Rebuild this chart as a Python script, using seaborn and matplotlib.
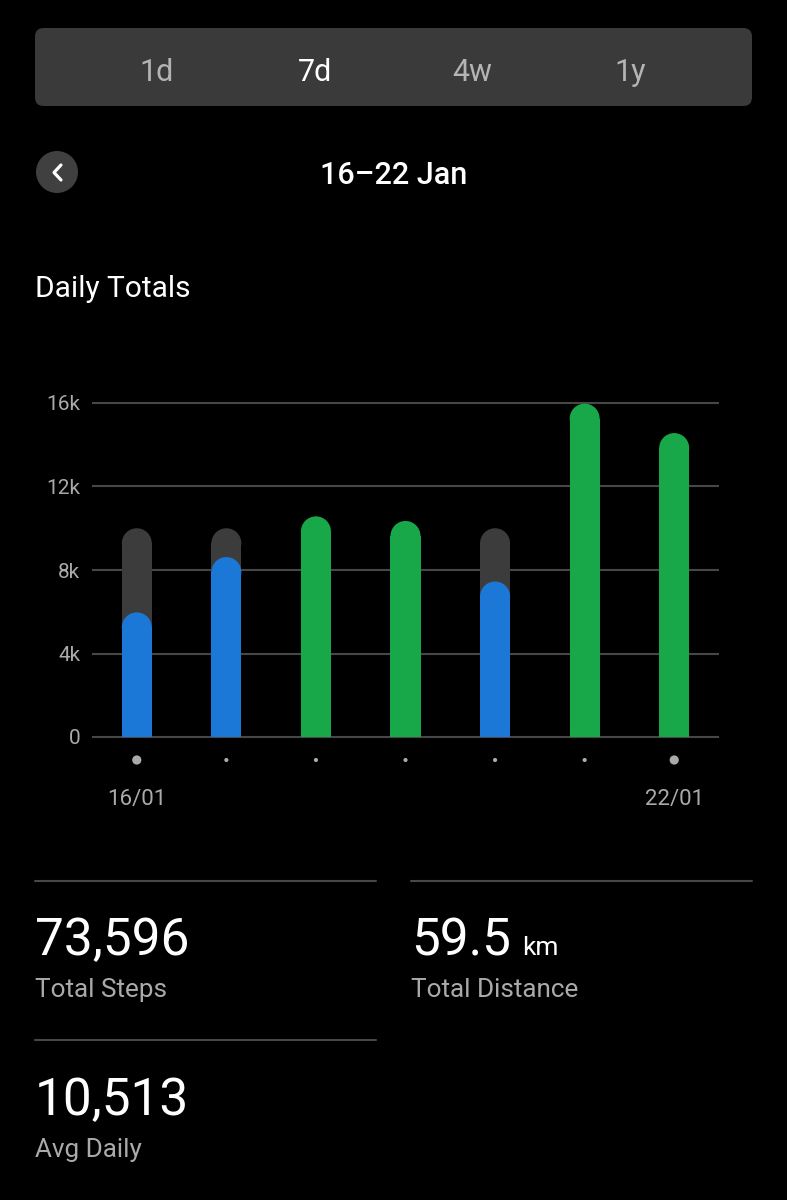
import numpy as np
import pandas as pd
import matplotlib
matplotlib.use('Agg')
import matplotlib.pyplot as plt
import seaborn as sns
from matplotlib.patches import Ellipse, FancyBboxPatch
from matplotlib.lines import Line2D

# data
days = ['16/01', '17/01', '18/01', '19/01', '20/01', '21/01', '22/01']
steps = [5970, 8620, 10570, 10350, 7450, 15970, 14560]
daily_goal = 10000
y_ticks = [0, 4000, 8000, 12000, 16000]
y_tick_labels = ['0', '4k', '8k', '12k', '16k']
periods = ['1d', '7d', '4w', '1y']
active_period = '7d'
date_range = '16–22 Jan'
stat_values = ['73,596', '59.5', '10,513']
stat_units = ['', 'km', '']
stat_labels = ['Total Steps', 'Total Distance', 'Avg Daily']

BLUE = '#1c78d6'
GREEN = '#18a84a'
GOAL_GRAY = '#3c3c3c'
GRID = '#474747'
MUTED = '#aaaaaa'

W, H = 787, 1200

sns.set_theme(style='dark', rc={'axes.facecolor': 'black', 'figure.facecolor': 'black'})
plt.rcParams['font.family'] = ['Roboto', 'DejaVu Sans']


def fx(x):
    return x / W


def fy(y):
    return 1 - y / H


fig = plt.figure(figsize=(W / 100, H / 100), dpi=100)
fig.patch.set_facecolor('black')

# period selector
tab = FancyBboxPatch((fx(35), fy(106)), fx(752) - fx(35), (106 - 28) / H,
                     boxstyle='round,pad=0,rounding_size=0.011', mutation_aspect=W / H,
                     transform=fig.transFigure, facecolor='#3a3a3a', edgecolor='none')
fig.add_artist(tab)
for i, p in enumerate(periods):
    fig.text(fx(157 + i * 157.7), fy(81), p, ha='center', va='baseline', fontsize=22,
             color='white' if p == active_period else '#b4b4b4')

# back button + date range
fig.add_artist(Ellipse((fx(57), fy(172)), 42 / W, 42 / H, transform=fig.transFigure,
                       facecolor='#404040', edgecolor='none'))
fig.add_artist(Line2D([fx(61), fx(54), fx(61)], [fy(165), fy(172.5), fy(180)],
                      transform=fig.transFigure, color='white', lw=2.3,
                      solid_capstyle='round', solid_joinstyle='round'))
fig.text(fx(394), fy(184), date_range, ha='center', va='baseline', fontsize=22,
         color='white', fontweight='medium')
fig.text(fx(35), fy(297), 'Daily Totals', ha='left', va='baseline', fontsize=21.5, color='white')

# chart axes: 0 at y=737px, 16k at y=403px
px_per_unit = (737 - 403) / 16000
ylo, yhi = -500, 16500
ax_bottom = 737 + (0 - ylo) * px_per_unit
ax_top = 403 - (yhi - 16000) * px_per_unit
ax = fig.add_axes([fx(92), fy(ax_bottom), (719 - 92) / W, (ax_bottom - ax_top) / H])
ax.set_facecolor('black')

df = pd.DataFrame({'day': days, 'steps': steps})
df['goal'] = np.where(df['steps'] < daily_goal, daily_goal, 0)
df['status'] = np.where(df['steps'] >= daily_goal, 'met', 'under')

bar_w = 0.335
sns.barplot(data=df, x='day', y='goal', color=GOAL_GRAY, width=bar_w, ax=ax,
            order=days, saturation=1)
n_goal = len(ax.patches)
sns.barplot(data=df, x='day', y='steps', hue='status', palette={'met': GREEN, 'under': BLUE},
            dodge=False, width=bar_w, ax=ax, order=days, legend=False, saturation=1)

ax.set_xlim(-0.5, len(days) - 0.5)
ax.set_ylim(ylo, yhi)

# rounded tops: radius in data units so the cap is a half circle in pixels
ax_w_px = 719 - 92
bar_px = bar_w * ax_w_px / len(days)
r_data = (bar_px / 2) / px_per_unit
for i, patch in enumerate(list(ax.patches)):
    h = patch.get_height()
    if not np.isfinite(h) or h <= 0:
        patch.set_visible(False)
        continue
    z = 2 if i < n_goal else 3
    fc = patch.get_facecolor()
    patch.set_edgecolor('none')
    patch.set_linewidth(0)
    patch.set_zorder(z)
    patch.set_height(h - r_data)
    ax.add_patch(Ellipse((patch.get_x() + patch.get_width() / 2, h - r_data),
                         patch.get_width(), 2 * r_data, facecolor=fc, edgecolor='none', zorder=z))

ax.set_axisbelow(True)
ax.yaxis.grid(True, color=GRID, lw=1.5)
ax.xaxis.grid(False)
ax.set_yticks(y_ticks, y_tick_labels)
ax.tick_params(axis='y', length=0, pad=8.5, labelcolor=MUTED, labelsize=15)
ax.tick_params(axis='x', length=0, labelbottom=False)
ax.set_xlabel('')
ax.set_ylabel('')
for s in ax.spines.values():
    s.set_visible(False)

# day dots and end labels under the axis
trans = ax.get_xaxis_transform()
ax_h_px = ax_bottom - ax_top
dot_y = (ax_bottom - 760) / ax_h_px
lab_y = (ax_bottom - 805) / ax_h_px
ends = (0, len(days) - 1)
ax.scatter(range(len(days)), [dot_y] * len(days), transform=trans, clip_on=False,
           s=[44 if i in ends else 9 for i in range(len(days))], color=MUTED, linewidths=0)
for i in ends:
    ax.text(i, lab_y, days[i], transform=trans, ha='center', va='baseline',
            fontsize=16, color=MUTED)

# summary stats
for y in (881, 1040):
    fig.add_artist(Line2D([fx(35), fx(376)], [fy(y), fy(y)], transform=fig.transFigure,
                          color=GRID, lw=1.5))
fig.add_artist(Line2D([fx(411), fx(752)], [fy(881), fy(881)], transform=fig.transFigure,
                      color=GRID, lw=1.5))

stat_pos = [(35, 955, 997), (411, 955, 997), (35, 1115, 1157)]
value_texts = []
for (x, yv, yl), v, u, lab in zip(stat_pos, stat_values, stat_units, stat_labels):
    t = fig.text(fx(x), fy(yv), v, ha='left', va='baseline', fontsize=37, color='white')
    value_texts.append((t, u, yv))
    fig.text(fx(x), fy(yl), lab, ha='left', va='baseline', fontsize=18.8, color=MUTED)

fig.canvas.draw()
renderer = fig.canvas.get_renderer()
for t, u, yv in value_texts:
    if u:
        bb = t.get_window_extent(renderer)
        fig.text(fx(bb.x1 + 11), fy(yv), u, ha='left', va='baseline', fontsize=19, color='white')

fig.savefig('out.png', dpi=100, facecolor='black')
